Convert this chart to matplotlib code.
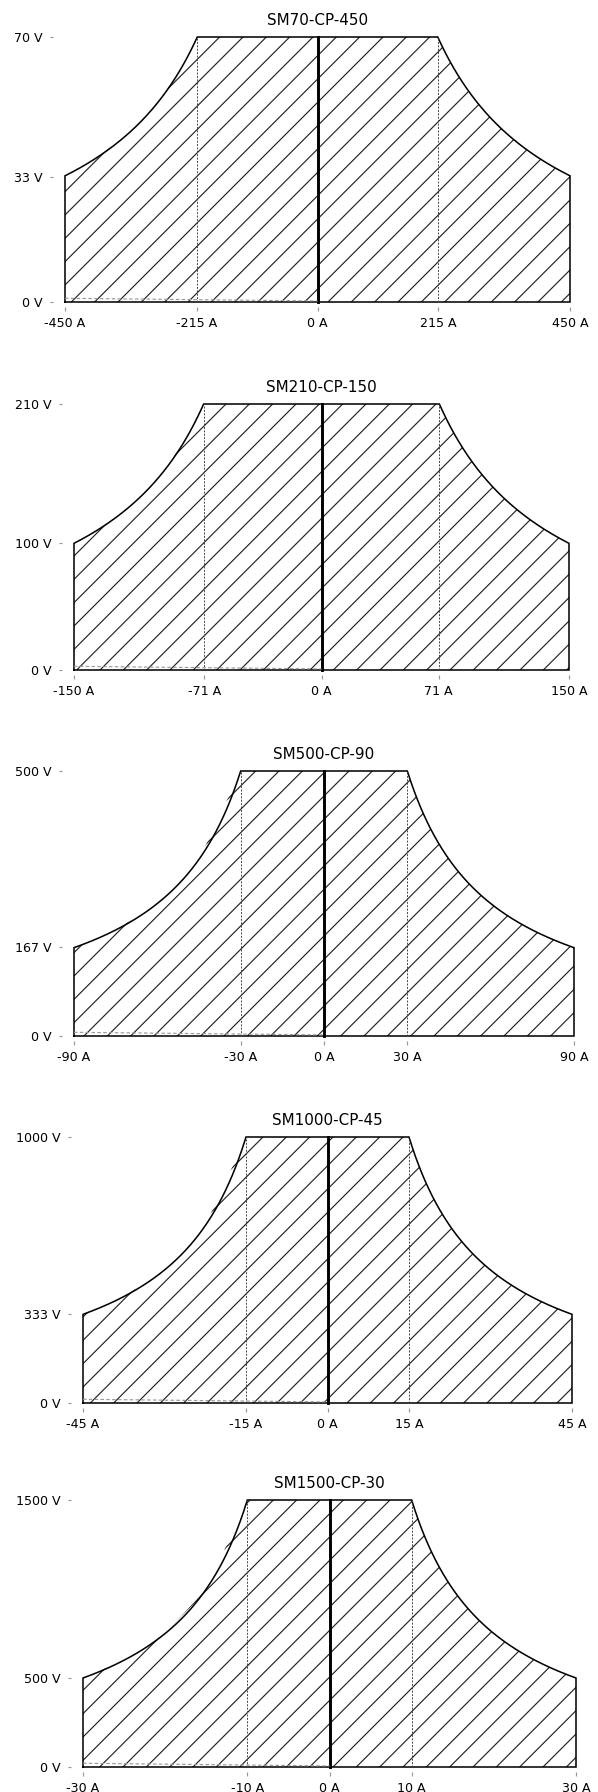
import numpy as np
import matplotlib.pyplot as plt

plt.rcParams['hatch.linewidth'] = 0.6

models = ["SM70-CP-450", "SM210-CP-150", "SM500-CP-90", "SM1000-CP-45", "SM1500-CP-30"]
v_max = [70, 210, 500, 1000, 1500]
i_max = [450, 150, 90, 45, 30]
i_knee = [215, 71, 30, 15, 10]
v_low = [33, 100, 167, 333, 500]
power = 15000  # W, constant power curve

W, H, DPI = 598, 1792, 140
# plotted area of each panel in pixels: left, right, top (Vmax), bottom (0 V)
boxes = [(65, 570, 37, 302),
         (74, 569, 404, 670),
         (74, 574, 771, 1036),
         (83, 572, 1137, 1403),
         (83, 576, 1500, 1767)]
mx_px, my_px = 12, 5

fig = plt.figure(figsize=(W / DPI, H / DPI), dpi=DPI)

for k in range(len(models)):
    vm, im, p = v_max[k], i_max[k], power
    left, right, top, bottom = boxes[k]
    ax = fig.add_axes([(left - mx_px) / W, 1 - (bottom + my_px) / H,
                       (right - left + 2 * mx_px) / W, (bottom + my_px - top) / H])
    mx = mx_px * 2 * im / (right - left)
    my = my_px * vm / (bottom - top)
    ax.set_xlim(-im - mx, im + mx)
    ax.set_ylim(-my, vm)

    knee = p / vm
    i_s = np.linspace(knee, im, 200)
    v_s = p / i_s
    i_c = np.linspace(knee, im, 5)
    v_c = p / i_c

    # hatched area (left side sampled coarsely like the original)
    xs = np.concatenate([[-im], -i_c[::-1], i_s, [im]])
    ys = np.concatenate([[0], v_c[::-1], v_s, [0]])
    ax.fill(xs, ys, facecolor='none', edgecolor='#222222', linewidth=0, hatch='//')

    # outline
    xo = np.concatenate([[-im], -i_s[::-1], i_s, [im, -im]])
    yo = np.concatenate([[0], v_s[::-1], v_s, [0, 0]])
    ax.plot(xo, yo, color='black', lw=0.8, clip_on=False, solid_joinstyle='miter')

    ax.plot([0, 0], [0, vm], color='black', lw=1.5, clip_on=False)
    for x in (-knee, knee):
        ax.plot([x, x], [0, vm], color='#444444', lw=0.5, ls=(0, (2, 1.5)))
    ax.plot([-im, 0], [0.014 * vm, 0.004 * vm], color='#999999', lw=0.6, ls=(0, (3, 2)))

    xt = [-im, -i_knee[k], 0, i_knee[k], im]
    ax.set_xticks(xt)
    ax.set_xticklabels([f"{x} A" for x in xt])
    yt = [0, v_low[k], vm]
    ax.set_yticks(yt)
    ax.set_yticklabels([f"{y} V" for y in yt])
    ax.tick_params(length=1.8, width=0.6, color='#999999', labelsize=6.5, pad=3.5)
    for s in ax.spines.values():
        s.set_visible(False)
    ax.set_title(models[k], fontsize=7.8, pad=6)

fig.savefig("out.png", dpi=DPI)
